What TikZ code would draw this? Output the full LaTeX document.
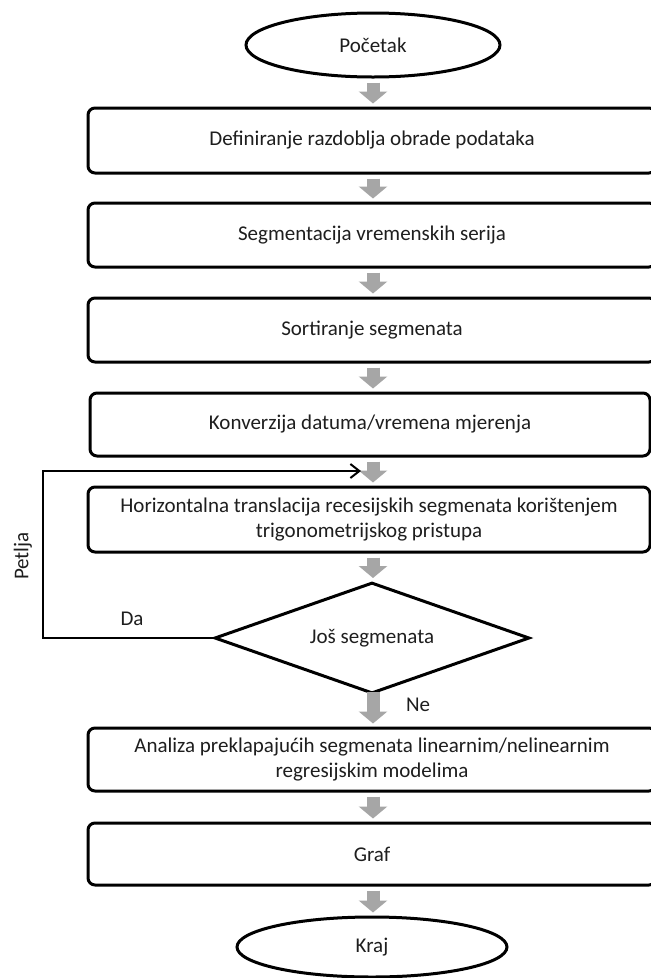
\documentclass[tikz,border=0pt]{standalone}
\usepackage{fontspec}
\setmainfont{Carlito}
\usetikzlibrary{shapes.geometric,arrows.meta}
\definecolor{arrgray}{HTML}{A6A6A6}
\definecolor{txt}{HTML}{1E1E1E}
\begin{document}
\begin{tikzpicture}[x=1pt,y=-1pt,
  lbl/.style={font=\fontsize{21}{24.5}\selectfont, text=txt, inner sep=0pt},
  box/.style={draw, line width=3pt, rounded corners=7pt, align=center, lbl},
  term/.style={draw, ellipse, line width=3pt, lbl},
  decide/.style={draw, diamond, aspect=2.84, line width=3pt, lbl},
  garrow/.style={draw=arrgray, line width=13pt, -{Triangle[length=12pt,width=28pt]}, shorten <=4pt, shorten >=3pt},
  loopline/.style={draw=black, line width=2pt, -{Straight Barb[length=9pt,width=14pt]}}
]
\useasboundingbox (0,0) rectangle (651,978);
\fill[white] (0,0) rectangle (651,978);

\node[term, minimum width=254pt, minimum height=64pt] (start) at (373,45) {Početak};
\node[box, minimum width=568pt, minimum height=65pt] (b1) at (372,140.5) {Definiranje razdoblja obrade podataka};
\node[box, minimum width=568pt, minimum height=64pt] (b2) at (372,235) {Segmentacija vremenskih serija};
\node[box, minimum width=568pt, minimum height=64pt] (b3) at (372,330) {Sortiranje segmenata};
\node[box, minimum width=560pt, minimum height=63pt] (b4) at (370,424.5) {Konverzija datuma/vremena mjerenja};
\node[box, minimum width=562pt, minimum height=65pt] (b5) at (369,519.5) {Horizontalna translacija recesijskih segmenata korištenjem\\trigonometrijskog pristupa};
\node[decide, minimum width=315pt, minimum height=111pt] (d) at (372,638) {Još segmenata};
\node[box, minimum width=568pt, minimum height=63pt] (b6) at (372,759.5) {Analiza preklapajućih segmenata linearnim/nelinearnim\\regresijskim modelima};
\node[box, minimum width=568pt, minimum height=62pt] (b7) at (372,854) {Graf};
\node[term, minimum width=270pt, minimum height=60pt] (end) at (372,947) {Kraj};

\draw[garrow] (start.south -| 373,0) -- (b1.north -| 373,0);
\draw[garrow] (b1.south -| 373,0) -- (b2.north -| 373,0);
\draw[garrow] (b2.south -| 373,0) -- (b3.north -| 373,0);
\draw[garrow] (b3.south -| 373,0) -- (b4.north -| 373,0);
\draw[garrow] (b4.south -| 373,0) -- (b5.north -| 373,0);
\draw[garrow] (b5.south -| 373,0) -- (d.north -| 373,0);
\draw[garrow, shorten <=-3pt] (d.south -| 373,0) -- (b6.north -| 373,0);
\draw[garrow] (b6.south -| 373,0) -- (b7.north -| 373,0);
\draw[garrow] (b7.south -| 373,0) -- (end.north -| 373,0);

\coordinate (lc) at (43,471);
\coordinate (lt) at (361,471);
\draw[loopline] (d.west) -| (lc) -- (lt);

\node[lbl] (da) at (132,619) {Da};
\node[lbl] (ne) at (418,705) {Ne};
\node[lbl, rotate=90] (petlja) at (23,556) {Petlja};
\end{tikzpicture}
\end{document}
